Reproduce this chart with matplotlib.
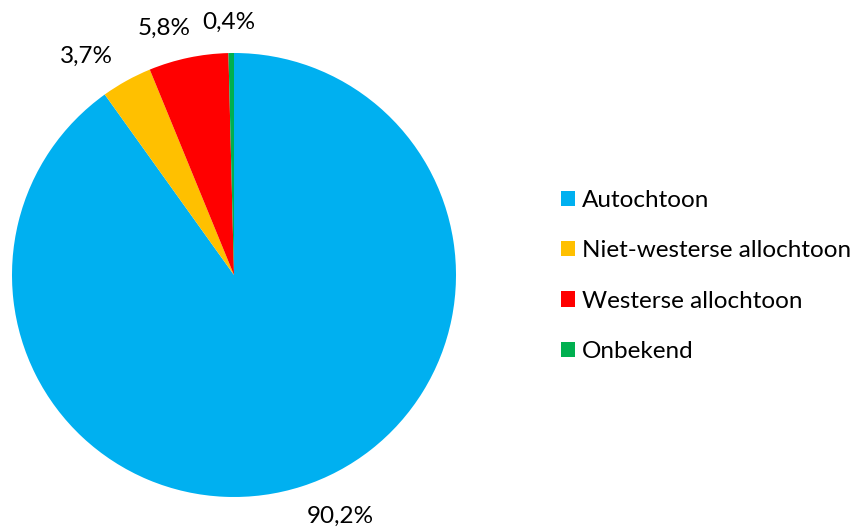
import matplotlib
matplotlib.use("Agg")
import matplotlib.pyplot as plt
from matplotlib.patches import Patch
import numpy as np

categories = ["Autochtoon", "Niet-westerse allochtoon", "Westerse allochtoon", "Onbekend"]
values = [90.2, 3.7, 5.8, 0.4]
labels = ["90,2%", "3,7%", "5,8%", "0,4%"]
colors = ["#00B0F0", "#FFC000", "#FF0000", "#00B050"]

plt.rcParams['font.family'] = ['Lato', 'DejaVu Sans']

fig = plt.figure(figsize=(8.59, 5.31), dpi=100)
W, H = 859, 531
cx, cy, r = 234, 275, 222
ax = fig.add_axes([(cx - r) / W, (H - cy - r) / H, 2 * r / W, 2 * r / H])
wedges, _ = ax.pie(values, colors=colors, startangle=90, counterclock=False,
                   radius=1.0, wedgeprops=dict(linewidth=0))
ax.set_xlim(-1, 1)
ax.set_ylim(-1, 1)
ax.set_aspect('equal')
ax.axis('off')

# label placement: mid-angle of each wedge (clockwise from 12 o'clock) plus small nudges
total = sum(values)
cum = np.cumsum([0] + values[:-1])
mids = [90 - 360 * (c + v / 2) / total for c, v in zip(cum, values)]
dists = [1.19, 1.19, 1.155, 1.14]
shifts = [6, 5, 4, 0.4]
for m, lab, d, s in zip(mids, labels, dists, shifts):
    ang = np.deg2rad(m + s)
    ax.text(d * np.cos(ang), d * np.sin(ang), lab, ha='center', va='center',
            fontsize=17.5, color='#000000', clip_on=False)

handles = [Patch(facecolor=c, edgecolor='none') for c in colors]
fig.legend(handles, categories, loc='center left',
           bbox_to_anchor=(551 / W, (H - 276) / H), frameon=False,
           fontsize=17.5, handlelength=0.58, handleheight=0.58,
           handletextpad=0.3, labelspacing=1.2, borderaxespad=0)

fig.savefig("out.png", dpi=100)
